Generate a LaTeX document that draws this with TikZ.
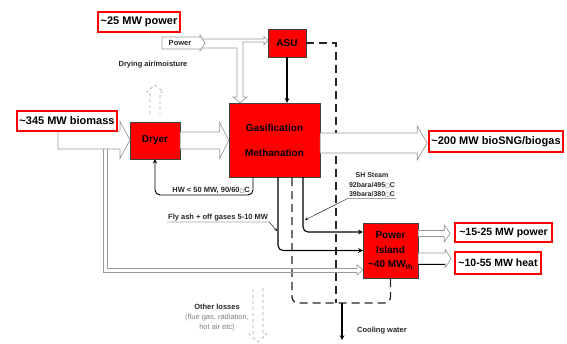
\documentclass[tikz,border=0pt]{standalone}
\usepackage{fontspec}
\setmainfont{Liberation Sans}
\newfontfamily\symfont{DejaVu Sans}
\usetikzlibrary{calc}

\newcommand{\apx}{\textasciitilde}
\newcommand{\nodeg}{{\symfont\fontsize{5}{5}\selectfont □}}
% hollow flow arrow: [opts]{start}{length}{half body}{half head}{head length}
\newcommand{\blockarrow}[6][]{%
  \draw[flowline,shift={#2},#1] (0,-#4) -- (#3-#6,-#4) -- (#3-#6,-#5) -- (#3,0)
    -- (#3-#6,#5) -- (#3-#6,#4) -- (0,#4) -- cycle;}
% same, dashed and open at the tail
\newcommand{\ventarrow}[6][]{%
  \draw[ventline,shift={#2},#1] (0,-#4) -- (#3-#6,-#4) -- (#3-#6,-#5) -- (#3,0)
    -- (#3-#6,#5) -- (#3-#6,#4) -- (0,#4);}

\tikzset{
  procbox/.style={draw=black!75, fill=red, font=\fontsize{10}{12}\selectfont\bfseries, align=center, inner sep=1pt},
  redlabel/.style={draw=red, line width=1.3pt, fill=white, font=\fontsize{11}{13}\selectfont\bfseries, inner sep=1pt},
  smalltxt/.style={font=\fontsize{7.5}{9}\selectfont\bfseries, text=black!85, inner sep=1pt},
  flowline/.style={draw=gray!80, fill=white, line width=0.7pt},
  ventline/.style={draw=gray!70, dashed, line width=0.6pt},
  channel/.style={draw=gray!80, line width=0.7pt},
  feed/.style={->, line width=1.1pt, rounded corners=5pt},
  cwline/.style={line width=1.3pt, dash pattern=on 8pt off 5pt, black!85},
  leader/.style={->, thin}
}

\begin{document}
\begin{tikzpicture}[x=1pt, y=-1pt, >=stealth]
  \useasboundingbox (0,0) rectangle (567,343);

  % process blocks
  \node[procbox, minimum width=50, minimum height=37] (dryer) at (155,140.5) {Dryer};
  \node[procbox, minimum width=91, minimum height=74] (gasif) at (274.5,140) {Gasification\\[13pt]Methanation};
  \node[procbox, minimum width=38, minimum height=28] (asu) at (287,43) {ASU};
  \node[procbox, minimum width=55, minimum height=55, font=\fontsize{10}{14.5}\selectfont\bfseries] (pisland) at (390.5,250.5) {Power\\Island\\\apx40 MW\textsubscript{th}};

  % take-off points under the gasifier
  \coordinate (hwout) at (253,177);
  \coordinate (ashout) at (278,177);
  \coordinate (steamout) at (303,177);
  \coordinate (cwin) at (292,178);

  % cooling water loop
  \draw[cwline] (asu.east) -- (336,43) -- (336,303);
  \draw[cwline, rounded corners=6pt] (cwin) -- (292,303) -- (390.5,303) -- (pisland.south);
  \coordinate (cwtap) at (342,303);
  \draw[->, line width=1.1pt] (cwtap) -- (342,340);
  \node[smalltxt, anchor=west] (cwater) at (356,331) {Cooling water};

  % biomass bypass to the power island
  \draw[channel] (103,149) -- (103,272) -- (357,272);
  \draw[channel] (107,149) -- (107,268) -- (357,268);
  \draw[flowline] (357,268) -- (357,265) -- (363,270) -- (357,275) -- (357,272);

  % main flows
  \blockarrow{(58,140)}{72}{9}{18.5}{10}
  \blockarrow{(dryer.east)}{48.5}{8.5}{18}{9}
  \blockarrow{(gasif.east |- 0,143)}{107}{10}{17}{10}

  % power feed to ASU and gasifier
  \draw[flowline] (198,39) -- (264,39) -- (264,36.5) -- (268,40.5) -- (264,44.5) -- (264,42)
    -- (243,42) -- (243,97) -- (247,97) -- (240,103) -- (233,97) -- (237,97) -- (237,48) -- (198,48);
  \blockarrow{(162,43)}{43}{6}{8}{5}
  \node[smalltxt] (pwrin) at (180,43) {Power};

  % power island outputs
  \blockarrow{(pisland.east |- 0,233.5)}{32}{3}{8.5}{6}
  \blockarrow{(pisland.east |- 0,258.5)}{33}{5.5}{9}{6}
  \draw[line width=0.8pt] (418,264) -- (445,264);

  % solid connectors
  \draw[feed] (asu.south) -- (asu.south |- gasif.north);
  \draw[feed, line width=0.9pt] (hwout) -- (253,195) -- (dryer.south |- 0,195) -- (dryer.south);
  \draw[feed] (steamout) |- ($(pisland.west)+(0,-18.5)$);
  \draw[feed] (ashout) |- (pisland.west);

  % vented / lost heat
  \ventarrow[rotate=90]{(155,114)}{29}{5}{8.5}{7}
  \node[smalltxt] (dryair) at (153,65) {Drying air/moisture};
  \ventarrow[rotate=-90]{(258,288)}{54}{5}{9}{8}
  \node[smalltxt, align=center, font=\fontsize{7.5}{10}\selectfont] (losses) at (217,318)
    {\textbf{Other losses}\\{\color{gray}(flue gas, radiation,}\\{\color{gray}hot air etc)}};

  % annotations
  \node[smalltxt, anchor=south east] (hw) at (251,195) {HW < 50 MW, 90/60\nodeg C};
  \node[smalltxt, anchor=south west] (flyash) at (167,222) {Fly ash + off gases 5-10 MW};
  \draw[leader] (flyash.south west) -- (flyash.south east) -- (277,231);
  \node[smalltxt, align=center, font=\fontsize{7}{9.5}\selectfont\bfseries] (steam) at (372,185)
    {SH Steam\\92bara/495\nodeg C\\39bara/380\nodeg C};
  \draw[leader] (steam.south east) -- (steam.south west) -- (305,220);

  % red figure labels
  \node[redlabel, minimum width=82, minimum height=20] (lpower) at (139,22) {\apx25 MW power};
  \node[redlabel, minimum width=100, minimum height=20] (lbiomass) at (67,121) {\apx345 MW biomass};
  \node[redlabel, minimum width=134, minimum height=21] (lsng) at (496,141.5) {\apx200 MW bioSNG/biogas};
  \node[redlabel, minimum width=97, minimum height=19, font=\fontsize{10.5}{12}\selectfont\bfseries] (lpowout) at (503.5,232.5) {\apx15-25 MW power};
  \node[redlabel, minimum width=86, minimum height=22, font=\fontsize{10.5}{12}\selectfont\bfseries] (lheat) at (498,263) {\apx10-55 MW heat};
\end{tikzpicture}
\end{document}
